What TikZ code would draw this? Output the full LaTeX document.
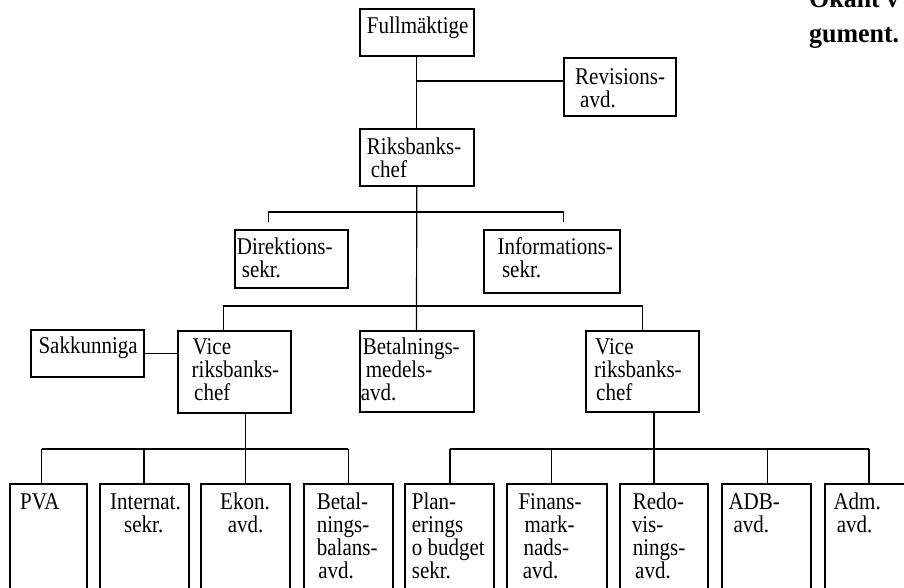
\documentclass[tikz,border=0pt]{standalone}
\usepackage{fontspec}
\setmainfont{Liberation Serif}[FakeStretch=0.875]
\newfontfamily\hdfont{Liberation Serif}[FakeStretch=0.96]
\newcommand{\boxlines}[2][23pt]{\vtop{\baselineskip=#1\lineskiplimit=-100pt\lineskip=0pt #2}}
\newcommand{\rowtxt}[2][0]{\hbox{\kern#1pt #2}}
\tikzset{
  orgbox/.style={draw, line width=2pt, rectangle, inner sep=0pt, anchor=north west},
  txt/.style={inner sep=0pt, anchor=base west, font=\fontsize{24}{23}\selectfont},
  hd/.style={inner sep=0pt, anchor=base west, font=\hdfont\bfseries\fontsize{27}{34.7}\selectfont},
  conn/.style={line width=1.2pt}
}
\newcommand{\bx}[5]{\node[orgbox, minimum width={(#4-#2)*1pt}, minimum height={(#5-#3)*1pt}] (#1) at (#2,#3) {};}
\begin{document}
\begin{tikzpicture}[x=1pt,y=-1pt]
\useasboundingbox (0,0) rectangle (904,588);
\fill[white] (0,0) rectangle (904,588);
\clip (0,0) rectangle (904,588);

% boxes
\bx{full}{358.5}{8.5}{473}{55}
\bx{rev}{563}{57}{675}{115}
\bx{riks}{358.5}{128.5}{473}{185}
\bx{dir}{233.5}{229}{346.5}{287}
\bx{inf}{483}{229}{619}{292}
\bx{sak}{30}{329}{143}{376}
\bx{vicel}{177}{329.5}{290}{411.5}
\bx{bet}{358.5}{330}{472.5}{411}
\bx{vicer}{585}{329.5}{697.5}{411}
\bx{pva}{8.5}{482.7}{86}{600}
\bx{int}{98.5}{482.7}{187.5}{600}
\bx{eko}{200}{482.7}{289}{600}
\bx{bal}{302.5}{482.7}{391.5}{600}
\bx{pla}{404}{482.7}{492.5}{600}
\bx{fin}{506}{482.7}{605.5}{600}
\bx{red}{619}{482.7}{707}{600}
\bx{adb}{720.5}{482.7}{810}{600}
\bx{adm}{823.5}{482.7}{915}{600}

% texts
\node[txt] (t-full) at (366.7,34) {\boxlines{\rowtxt{Fullmäktige}}};
\node[txt] (t-rev) at (575,85) {\boxlines{\rowtxt{Revisions-}\rowtxt[5]{avd.}}};
\node[txt] (t-riks) at (366.7,155) {\boxlines{\rowtxt{Riksbanks-}\rowtxt[4]{chef}}};
\node[txt] (t-dir) at (236.7,254) {\boxlines{\rowtxt{Direktions-}\rowtxt[5]{sekr.}}};
\node[txt] (t-inf) at (497.3,254) {\boxlines{\rowtxt{Informations-}\rowtxt[4.5]{sekr.}}};
\node[txt] (t-sak) at (38.3,353) {\boxlines{\rowtxt{Sakkunniga}}};
\node[txt] (t-vicel) at (192.5,354) {\boxlines{\rowtxt{Vice}\rowtxt[-1]{riksbanks-}\rowtxt[1.5]{chef}}};
\node[txt] (t-bet) at (362.7,354) {\boxlines{\rowtxt{Betalnings-}\rowtxt[3]{medels-}\rowtxt[-2]{avd.}}};
\node[txt] (t-vicer) at (595,354) {\boxlines{\rowtxt{Vice}\rowtxt[-1]{riksbanks-}\rowtxt[1]{chef}}};
\node[txt] (t-pva) at (20,509) {\boxlines{\rowtxt{PVA}}};
\node[txt] (t-int) at (110,509) {\boxlines{\rowtxt{Internat.}\rowtxt[14]{sekr.}}};
\node[txt] (t-eko) at (220,509) {\boxlines{\rowtxt{Ekon.}\rowtxt[7.7]{avd.}}};
\node[txt] (t-bal) at (316.7,509) {\boxlines{\rowtxt{Betal-}\rowtxt{nings-}\rowtxt{balans-}\rowtxt[1.5]{avd.}}};
\node[txt] (t-pla) at (411.7,509) {\boxlines{\rowtxt{Plan-}\rowtxt{erings}\rowtxt{o budget}\rowtxt{sekr.}}};
\node[txt] (t-fin) at (518.3,509) {\boxlines{\rowtxt{Finans-}\rowtxt[6]{mark-}\rowtxt[5]{nads-}\rowtxt[4.4]{avd.}}};
\node[txt] (t-red) at (632.7,509) {\boxlines{\rowtxt{Redo-}\rowtxt[-1]{vis-}\rowtxt{nings-}\rowtxt[2.3]{avd.}}};
\node[txt] (t-adb) at (728.3,509) {\boxlines{\rowtxt{ADB-}\rowtxt[5]{avd.}}};
\node[txt] (t-adm) at (833.3,509) {\boxlines{\rowtxt{Adm.}\rowtxt[3.4]{avd.}}};

\node[hd] (head) at (809,8) {\boxlines[34.7pt]{\rowtxt{Okänt v}\rowtxt{gument.}}};

% connectors (top)
\draw[conn] (full.south) -- (riks.north);
\coordinate (jr) at (416,81);
\draw[conn] (jr) -- (jr -| rev.west);
\draw[conn] (riks.south) -- (bet.north);
\coordinate (b1) at (416,212);
\coordinate (d1) at (268.3,222.3);
\coordinate (i1) at (563.3,222.3);
\draw[conn] (d1) |- (b1) -| (i1);
\coordinate (b2) at (416,306);
\coordinate (vl) at (223.3,306);
\draw[conn] (vl |- vicel.north) |- (b2) -| (vicer.north);
\draw[conn] (sak.east) -- (sak.east -| vicel.west);

% left subtree
\coordinate (lv) at (245.7,449);
\coordinate (lp1) at (41.7,449);
\coordinate (lp2) at (144,449);
\coordinate (lp4) at (348.3,449);
\draw[conn] (lv |- vicel.south) -- (lv);
\draw[conn] (lp1) -- (lp4);
\draw[conn] (lp1) -- (lp1 |- pva.north);
\draw[conn] (lp2) -- (lp2 |- int.north);
\draw[conn] (lv) -- (lv |- eko.north);
\draw[conn] (lp4) -- (lp4 |- bal.north);

% right subtree
\coordinate (rv) at (654,449);
\coordinate (rp1) at (450,449);
\coordinate (rp2) at (551.7,449);
\coordinate (rp4) at (767.3,449);
\coordinate (rp5) at (869,449);
\draw[conn] (rv |- vicer.south) -- (rv);
\draw[conn] (rp1) -- (rp5);
\draw[conn] (rp1) -- (rp1 |- pla.north);
\draw[conn] (rp2) -- (rp2 |- fin.north);
\draw[conn] (rv) -- (rv |- red.north);
\draw[conn] (rp4) -- (rp4 |- adb.north);
\draw[conn] (rp5) -- (rp5 |- adm.north);
\end{tikzpicture}
\end{document}
